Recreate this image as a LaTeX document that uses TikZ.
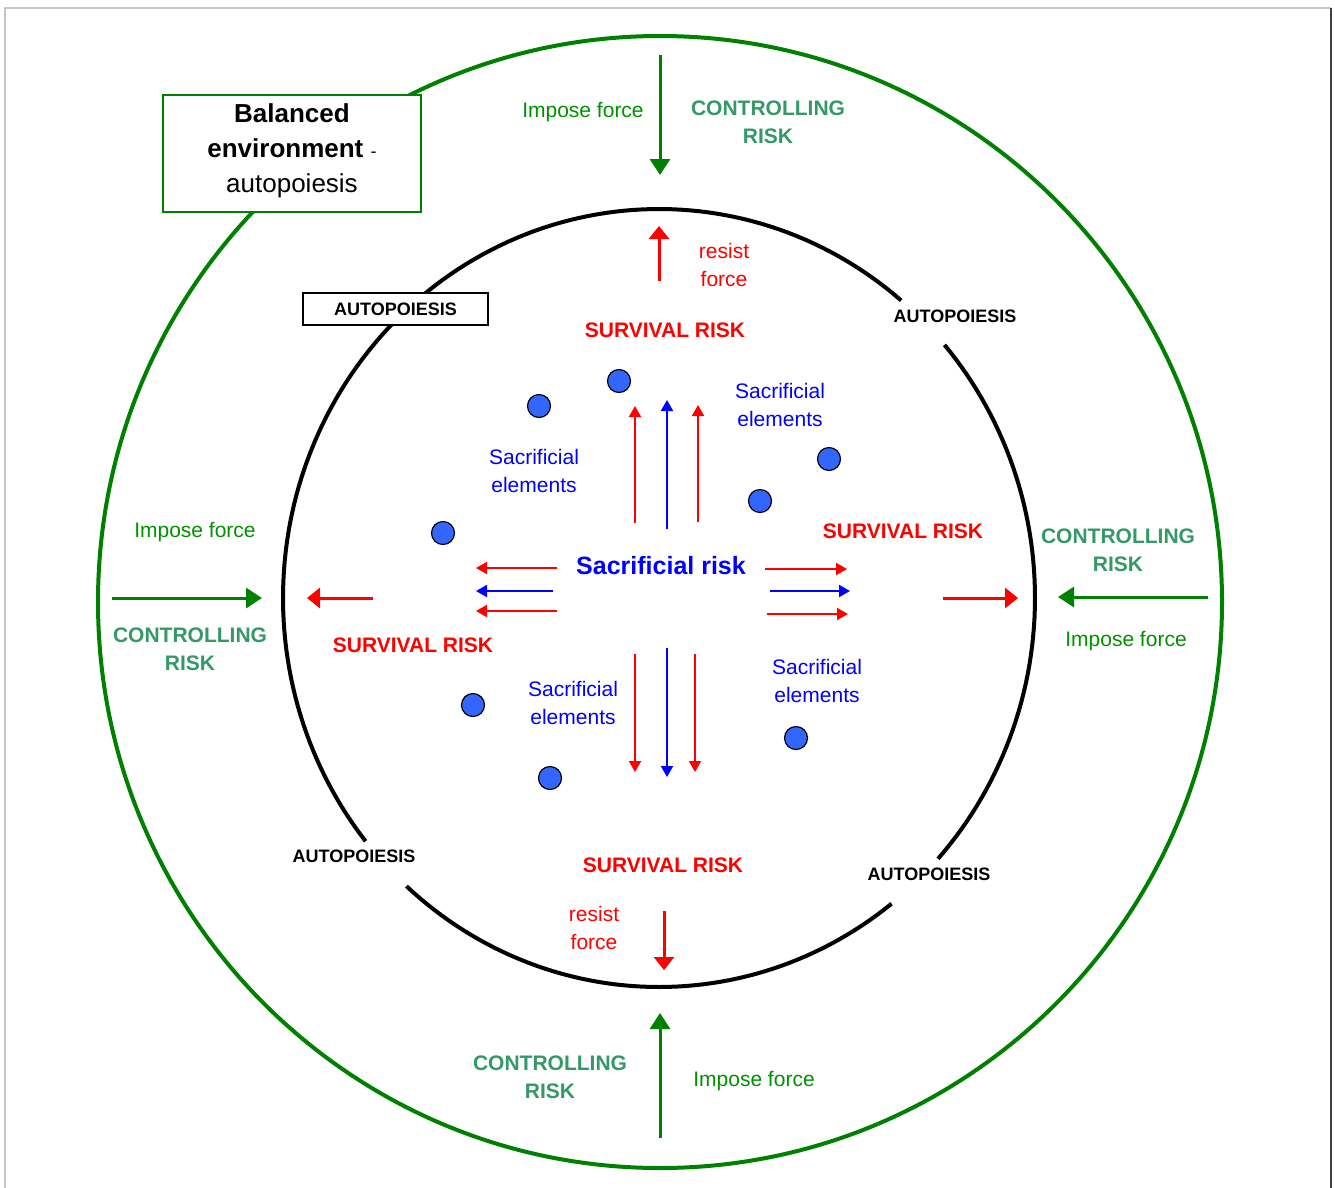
\documentclass[tikz,border=0pt]{standalone}
\usepackage{fontspec}
\setmainfont{Liberation Sans}
\usetikzlibrary{arrows.meta}
\definecolor{lgreen}{RGB}{0,128,0}
\definecolor{igreen}{RGB}{0,145,0}
\definecolor{cgreen}{RGB}{51,153,102}
\definecolor{sred}{RGB}{255,0,0}
\definecolor{sblue}{RGB}{0,0,255}
\definecolor{dotblue}{RGB}{51,102,255}
\begin{document}
\begin{tikzpicture}[x=1pt,y=-1pt,
  every node/.style={inner sep=0pt, align=center},
  impose/.style={text=igreen, font=\fontsize{21}{28}\selectfont},
  control/.style={text=cgreen, font=\bfseries\fontsize{21}{28}\selectfont},
  survival/.style={text=sred, font=\bfseries\fontsize{21}{28}\selectfont},
  resist/.style={text=sred, font=\fontsize{21}{28}\selectfont},
  autop/.style={text=black, font=\bfseries\fontsize{18}{22}\selectfont},
  sacel/.style={text=sblue, font=\fontsize{21}{28}\selectfont},
  elem/.style={circle, draw=black, line width=1.2pt, fill=dotblue, minimum size=23pt},
  garrow/.style={draw=lgreen, line width=3pt, -{Triangle[length=16pt,width=20pt]}},
  rarrow/.style={draw=sred, line width=3pt, -{Triangle[length=13pt,width=20pt]}},
  sarrow/.style={line width=2pt, -{Triangle[length=11pt,width=12pt]}},
  ring/.style={line width=4pt}
]
\useasboundingbox (0,0) rectangle (1335,1187);
\fill[white] (0,0) rectangle (1335,1187);
% frame
\draw[gray!45, line width=1.2pt] (5,1190) -- (5,8) -- (1331,8);
\draw[black!75, line width=1.2pt] (1331,8) -- (1331,1190);

% outer green ring
\draw[ring, lgreen] (660,602) ellipse [x radius=562, y radius=566];

% inner black ring (with gaps for labels)
\draw[ring] plot[domain=-40.6:42.1, samples=60] ({659+376*cos(\x)},{598+389*sin(\x)});
\draw[ring] plot[domain=51.8:132.2, samples=60] ({659+376*cos(\x)},{598+389*sin(\x)});
\draw[ring] plot[domain=141.3:310.1, samples=120] ({659+376*cos(\x)},{598+389*sin(\x)});

% balanced environment box
\node[draw=lgreen, line width=1.5pt, fill=white, minimum width=258pt, minimum height=117pt] (bal) at (292,153.5) {};
\node[font=\fontsize{26}{35}\selectfont] (baltext) at ([yshift=3pt]bal.center)
  {{\bfseries Balanced}\\{\bfseries environment} {\fontsize{18}{35}\selectfont -}\\autopoiesis};

% AUTOPOIESIS labels
\node[autop, draw=black, line width=1.5pt, fill=white, minimum width=185pt, minimum height=32pt] (apTL) at (395.5,309) {AUTOPOIESIS};
\node[autop] (apTR) at (955,316) {AUTOPOIESIS};
\node[autop] (apBL) at (354,856) {AUTOPOIESIS};
\node[autop] (apBR) at (929,874) {AUTOPOIESIS};

% top
\node[impose] (impT) at (583,112) {Impose force};
\node[control] (conT) at (768,122) {CONTROLLING\\RISK};
\coordinate (gTs) at (660,55); \coordinate (gTe) at (660,175);
\draw[garrow] (gTs) -- (gTe);
\coordinate (rTs) at (659,281); \coordinate (rTe) at (659,226);
\draw[rarrow] (rTs) -- (rTe);
\node[resist] (resT) at (724,265) {resist\\force};
\node[survival] (surT) at (665,330) {SURVIVAL RISK};

% left
\node[impose] (impL) at (195,532) {Impose force};
\node[control] (conL) at (190,649) {CONTROLLING\\RISK};
\coordinate (gLs) at (112,598); \coordinate (gLe) at (262,598);
\draw[garrow] (gLs) -- (gLe);
\coordinate (rLs) at (373,598); \coordinate (rLe) at (307,598);
\draw[rarrow] (rLs) -- (rLe);
\node[survival] (surL) at (413,645) {SURVIVAL RISK};

% right
\node[control] (conR) at (1118,550) {CONTROLLING\\RISK};
\node[impose] (impR) at (1126,641) {Impose force};
\coordinate (gRs) at (1208,597); \coordinate (gRe) at (1058,597);
\draw[garrow] (gRs) -- (gRe);
\coordinate (rRs) at (943,598); \coordinate (rRe) at (1018,598);
\draw[rarrow] (rRs) -- (rRe);
\node[survival] (surR) at (903,531) {SURVIVAL RISK};

% bottom
\node[survival] (surB) at (663,865) {SURVIVAL RISK};
\node[resist] (resB) at (594,928) {resist\\force};
\coordinate (rBs) at (664,911); \coordinate (rBe) at (664,970);
\draw[rarrow] (rBs) -- (rBe);
\node[control] (conB) at (550,1077) {CONTROLLING\\RISK};
\node[impose] (impB) at (754,1081) {Impose force};
\coordinate (gBs) at (660,1138); \coordinate (gBe) at (660,1013);
\draw[garrow] (gBs) -- (gBe);

% centre
\node[text=sblue, font=\bfseries\fontsize{25}{30}\selectfont] (sacrisk) at (661,566) {Sacrificial risk};

\node[sacel] (se1) at (534,471) {Sacrificial\\elements};
\node[sacel] (se2) at (780,405) {Sacrificial\\elements};
\node[sacel] (se3) at (573,703) {Sacrificial\\elements};
\node[sacel] (se4) at (817,681) {Sacrificial\\elements};

% central arrows up
\coordinate (u1s) at (635,523); \coordinate (u1e) at (635,406);
\coordinate (u2s) at (667,529); \coordinate (u2e) at (667,400);
\coordinate (u3s) at (698,522); \coordinate (u3e) at (698,405);
\draw[sarrow, sred] (u1s) -- (u1e);
\draw[sarrow, sblue] (u2s) -- (u2e);
\draw[sarrow, sred] (u3s) -- (u3e);
% down
\coordinate (d1s) at (635,654); \coordinate (d1e) at (635,772);
\coordinate (d2s) at (667,648); \coordinate (d2e) at (667,777);
\coordinate (d3s) at (695,654); \coordinate (d3e) at (695,772);
\draw[sarrow, sred] (d1s) -- (d1e);
\draw[sarrow, sblue] (d2s) -- (d2e);
\draw[sarrow, sred] (d3s) -- (d3e);
% left
\coordinate (l1s) at (557,568); \coordinate (l1e) at (476,568);
\coordinate (l2s) at (553,591); \coordinate (l2e) at (476,591);
\coordinate (l3s) at (557,611); \coordinate (l3e) at (476,611);
\draw[sarrow, sred] (l1s) -- (l1e);
\draw[sarrow, sblue] (l2s) -- (l2e);
\draw[sarrow, sred] (l3s) -- (l3e);
% right
\coordinate (r1s) at (765,569); \coordinate (r1e) at (847,569);
\coordinate (r2s) at (770,591); \coordinate (r2e) at (850,591);
\coordinate (r3s) at (767,614); \coordinate (r3e) at (848,614);
\draw[sarrow, sred] (r1s) -- (r1e);
\draw[sarrow, sblue] (r2s) -- (r2e);
\draw[sarrow, sred] (r3s) -- (r3e);

% sacrificial elements (dots)
\node[elem] (e1) at (619,381) {};
\node[elem] (e2) at (539,406) {};
\node[elem] (e3) at (443,533) {};
\node[elem] (e4) at (760,501) {};
\node[elem] (e5) at (829,459) {};
\node[elem] (e6) at (473,705) {};
\node[elem] (e7) at (550,778) {};
\node[elem] (e8) at (796,738) {};
\end{tikzpicture}
\end{document}
